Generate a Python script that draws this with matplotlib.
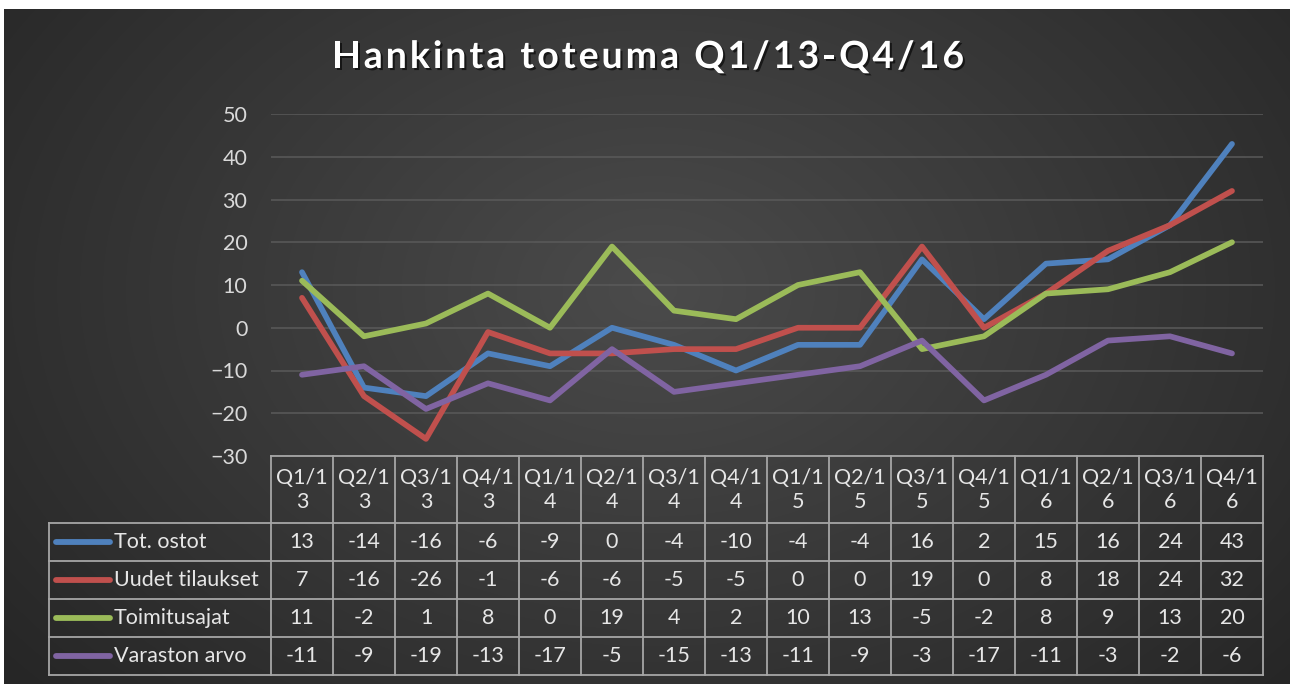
import numpy as np
import matplotlib
matplotlib.use("Agg")
import matplotlib.pyplot as plt
import matplotlib.patheffects as pe

plt.rcParams['font.family'] = ['Lato', 'DejaVu Sans']

# data
quarters = ["Q1/13", "Q2/13", "Q3/13", "Q4/13", "Q1/14", "Q2/14", "Q3/14", "Q4/14",
            "Q1/15", "Q2/15", "Q3/15", "Q4/15", "Q1/16", "Q2/16", "Q3/16", "Q4/16"]
series_names = ["Tot. ostot", "Uudet tilaukset", "Toimitusajat", "Varaston arvo"]
tot_ostot = [13, -14, -16, -6, -9, 0, -4, -10, -4, -4, 16, 2, 15, 16, 24, 43]
uudet_tilaukset = [7, -16, -26, -1, -6, -6, -5, -5, 0, 0, 19, 0, 8, 18, 24, 32]
toimitusajat = [11, -2, 1, 8, 0, 19, 4, 2, 10, 13, -5, -2, 8, 9, 13, 20]
varaston_arvo = [-11, -9, -19, -13, -17, -5, -15, -13, -11, -9, -3, -17, -11, -3, -2, -6]
series = [tot_ostot, uudet_tilaukset, toimitusajat, varaston_arvo]
colors = ["#4f81bd", "#c0504d", "#9bbb59", "#8064a2"]

W, H = 1290, 684
fig = plt.figure(figsize=(W / 100, H / 100), dpi=100, facecolor="white")


def fx(px):
    return px / W


def fy(py):
    return 1 - py / H


# dark radial background
bg = fig.add_axes([fx(4), 0, 1 - fx(4), 1 - 9 / H])
yy, xx = np.mgrid[0:675, 0:1286]
r = np.clip(np.hypot((xx - 650) / 850, (yy - 280) / 600), 0, 1)
shade = 0x4b + (0x26 - 0x4b) * r
img = np.dstack([shade, shade, shade]) / 255
bg.imshow(img, aspect="auto", interpolation="bilinear")
bg.set_axis_off()

# title with letter spacing
title = "Hankinta toteuma Q1/13-Q4/16"
tkw = dict(fontsize=27, fontweight="bold", color="white",
           path_effects=[pe.withSimplePatchShadow(offset=(1.5, -1.5), shadow_rgbFace="black", alpha=0.6)])
renderer = fig.canvas.get_renderer()
spacing = 3.0
widths = []
for i in range(len(title) + 1):
    t = fig.text(0, 0, title[:i] + "|", **tkw)
    bar = fig.text(0, 0, "|", **tkw)
    widths.append(t.get_window_extent(renderer).width - bar.get_window_extent(renderer).width)
    t.remove()
    bar.remove()
total = widths[-1] + spacing * (len(title) - 1)
x0 = 648 - total / 2
for i, ch in enumerate(title):
    fig.text(fx(x0 + widths[i] + spacing * i), fy(57), ch, ha="left", va="center", **tkw)

# line chart
left, right = 271, 1263
ax = fig.add_axes([fx(left), fy(456), fx(right) - fx(left), (456 - 114) / H])
ax.set_facecolor("none")
x = np.arange(len(quarters))
for k, (vals, c) in enumerate(zip(series, colors)):
    ax.plot(x, vals, color=c, lw=4.1, solid_joinstyle="round", solid_capstyle="round", zorder=3 + k)
ax.set_xlim(-0.5, len(quarters) - 0.5)
ax.set_ylim(-30, 50)
ax.set_yticks(range(-30, 51, 10))
ax.set_xticks([])
ax.yaxis.grid(True, color="#5a5a5a", lw=1.1)
ax.set_axisbelow(True)
ax.tick_params(axis="y", length=0, pad=17, labelsize=15.5, labelcolor="#d9d9d9")
for s in ax.spines.values():
    s.set_visible(False)

# data table under the chart
tab = fig.add_axes([fx(left), fy(675), fx(right) - fx(left), (675 - 456) / H])
tab.set_xlim(-0.5, len(quarters) - 0.5)
tab.set_ylim(675, 456)
tab.set_axis_off()
colw = (right - left) / len(quarters)
legend_left = -0.5 + (49 - left) / colw
row_edges = [456, 522.7, 560.7, 599, 637.3, 675.3]
lc = "#a6a6a6"
lkw = dict(color=lc, lw=1.3, clip_on=False, solid_capstyle="projecting")
n = len(quarters)
tab.plot([-0.5, n - 0.5], [row_edges[0]] * 2, **lkw)
for y in row_edges[1:]:
    tab.plot([legend_left, n - 0.5], [y, y], **lkw)
for i in range(n + 1):
    tab.plot([i - 0.5, i - 0.5], [row_edges[0], row_edges[-1]], **lkw)
tab.plot([legend_left, legend_left], [row_edges[1], row_edges[-1]], **lkw)

txt = dict(color="#e6e6e6", fontsize=15.5, clip_on=False)
for i, q in enumerate(quarters):
    tab.text(i, 490, q[:4] + "\n" + q[4:], ha="center", va="center", linespacing=1.25, **txt)
for r_i, (name, vals, c) in enumerate(zip(series_names, series, colors)):
    yc = (row_edges[r_i + 1] + row_edges[r_i + 2]) / 2
    lx0 = -0.5 + (56 - left) / colw
    lx1 = -0.5 + (110 - left) / colw
    tab.plot([lx0, lx1], [yc, yc], color=c, lw=4.2, solid_capstyle="round", clip_on=False)
    tab.text(-0.5 + (114 - left) / colw, yc, name, ha="left", va="center", **txt)
    for i, v in enumerate(vals):
        tab.text(i, yc, str(v), ha="center", va="center", **txt)

fig.savefig("out.png", dpi=100, facecolor="white")
